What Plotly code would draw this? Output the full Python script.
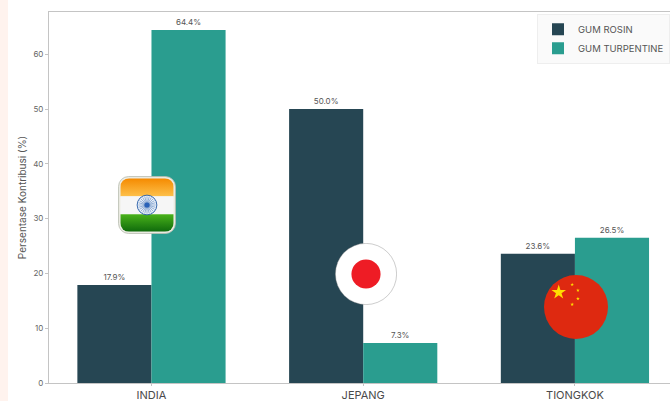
import base64
import plotly.graph_objects as go

categories = ["INDIA", "JEPANG", "TIONGKOK"]
gum_rosin = [17.9, 50.0, 23.6]
gum_turpentine = [64.4, 7.3, 26.5]
y_ticks = [0, 10, 20, 30, 40, 50, 60]

W, H = 670, 401
ML, MR, MT, MB = 49, 0, 12, 18
PW, PH = W - ML - MR, H - MT - MB
FONT = "Inter, Lato, sans-serif"


def uri(svg):
    return "data:image/svg+xml;base64," + base64.b64encode(svg.encode()).decode()


def px_image(svg, x, y, w, h):
    return dict(source=uri(svg), xref="paper", yref="paper",
                x=(x - ML) / PW, y=1 - (y - MT) / PH,
                sizex=w / PW, sizey=h / PH, sizing="stretch",
                xanchor="left", yanchor="top", layer="above")


spokes = "".join(
    f'<line x1="50" y1="50" x2="50" y2="35" stroke="#2a5fa8" stroke-width="0.7" transform="rotate({a} 50 50)"/>'
    for a in range(0, 360, 15))
india = f'''<svg xmlns="http://www.w3.org/2000/svg" viewBox="0 0 100 100" width="100" height="100">
<defs>
<linearGradient id="o" x1="0" y1="0" x2="0" y2="1"><stop offset="0" stop-color="#f58a00"/><stop offset="1" stop-color="#fdc04a"/></linearGradient>
<linearGradient id="g" x1="0" y1="0" x2="0" y2="1"><stop offset="0" stop-color="#49b21a"/><stop offset="1" stop-color="#0f6a0c"/></linearGradient>
<clipPath id="c"><rect x="4" y="4" width="92" height="92" rx="15"/></clipPath>
</defs>
<rect x="1" y="1" width="98" height="98" rx="17" fill="#eeeee6" stroke="#b9bdb0" stroke-width="1.5"/>
<g clip-path="url(#c)">
<rect x="4" y="4" width="92" height="31" fill="url(#o)"/>
<rect x="4" y="35" width="92" height="31" fill="#f6f6f6"/>
<rect x="4" y="66" width="92" height="30" fill="url(#g)"/>
</g>
<circle cx="50" cy="50" r="17" fill="#eaf1fa" stroke="#2a5fa8" stroke-width="1.6"/>{spokes}
<circle cx="50" cy="50" r="4.5" fill="#2a62b8"/>
</svg>'''

japan = '''<svg xmlns="http://www.w3.org/2000/svg" viewBox="0 0 100 100" width="100" height="100">
<circle cx="50" cy="50" r="49.4" fill="#ffffff" stroke="#777777" stroke-width="0.6"/>
<circle cx="50" cy="50" r="23.5" fill="#ee1c25"/>
</svg>'''

star = "0,-1 0.2245,-0.309 0.951,-0.309 0.363,0.118 0.588,0.809 0,0.382 -0.588,0.809 -0.363,0.118 -0.951,-0.309 -0.2245,-0.309"
small = "".join(
    f'<polygon points="{star}" fill="#ffde00" transform="translate({x} {y}) scale(3)"/>'
    for x, y in [(44, 15), (53, 24), (53, 37), (44, 46)])
china = f'''<svg xmlns="http://www.w3.org/2000/svg" viewBox="0 0 100 100" width="100" height="100">
<circle cx="50" cy="50" r="50" fill="#de2910"/>
<polygon points="{star}" fill="#ffde00" transform="translate(23 27) scale(12)"/>{small}
</svg>'''

fig = go.Figure()
for name, vals, col in [("GUM ROSIN", gum_rosin, "#264653"),
                        ("GUM TURPENTINE", gum_turpentine, "#2a9d8f")]:
    fig.add_bar(x=categories, y=vals, name=name, marker=dict(color=col, line_width=0),
                texttemplate="%{y:.1f}%", textposition="outside", cliponaxis=False,
                textfont=dict(size=8, color="#555555", family=FONT))

fig.update_layout(
    width=W, height=H, margin=dict(l=ML, r=MR, t=MT, b=MB, pad=0, autoexpand=False),
    paper_bgcolor="white", plot_bgcolor="white", barmode="group",
    bargap=0.3, bargroupgap=0, font=dict(family=FONT, color="#555555"),
    legend=dict(x=1, y=0.995, xanchor="right", yanchor="top", bgcolor="#fafafa",
                bordercolor="#eeeeee", borderwidth=1, font=dict(size=9.5, color="#555555"),
                itemwidth=30, tracegroupgap=0),
    shapes=[dict(type="rect", xref="paper", yref="paper", layer="below",
                 x0=-ML / PW, x1=(8 - ML) / PW, y0=-MB / PH, y1=1 + MT / PH,
                 fillcolor="#fff3ee", line_width=0)],
    images=[px_image(india, 118, 176, 58, 58),
            px_image(japan, 335, 243, 62, 62),
            px_image(china, 544, 275, 64, 64)],
)
fig.update_xaxes(range=[-0.484, 2.449], automargin=False, showline=True, mirror=True, linecolor="#c4c4c4",
                 linewidth=1, ticks="outside", ticklen=2, tickcolor="#c4c4c4", showgrid=False,
                 tickfont=dict(size=11, color="#4a4a4a", family=FONT))
fig.update_yaxes(range=[0, 67.7], automargin=False, tickvals=y_ticks, showline=True, mirror=True, linecolor="#c4c4c4",
                 linewidth=1, ticks="outside", ticklen=3, tickcolor="#c4c4c4", showgrid=False,
                 zeroline=False, tickfont=dict(size=8, color="#666666", family=FONT),
                 title=dict(text="Persentase Kontribusi (%)", standoff=4,
                            font=dict(size=10, color="#555555", family=FONT)))
fig.write_html("out.html", config={"displayModeBar": False},
               post_script="document.body.style.margin='0';document.documentElement.style.overflow='hidden';")
